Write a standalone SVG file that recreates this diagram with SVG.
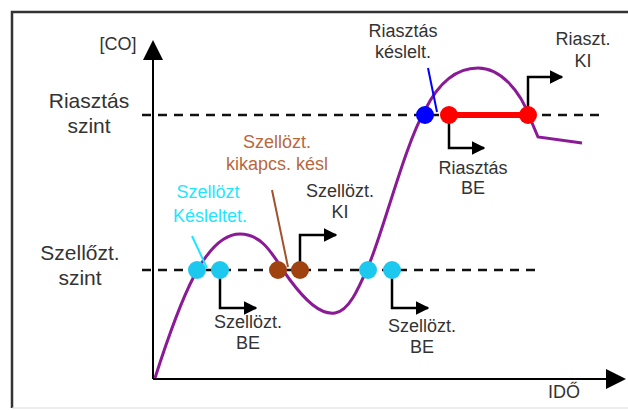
<svg xmlns="http://www.w3.org/2000/svg" width="628" height="410" viewBox="0 0 628 410">
<defs>
<marker id="ah" viewBox="0 0 10 10" refX="9" refY="5" markerWidth="5.5" markerHeight="5.5" orient="auto" markerUnits="strokeWidth"><path d="M0,0 L10,5 L0,10 z" fill="#000"/></marker>
<marker id="axh" viewBox="0 0 10 10" refX="9" refY="5" markerWidth="10" markerHeight="10" orient="auto" markerUnits="strokeWidth"><path d="M0,0 L10,5 L0,10 z" fill="#000"/></marker>
<clipPath id="cotop"><rect x="90" y="37" width="60" height="30"/></clipPath>
</defs>
<style>
text{font-family:"Liberation Sans",Arial,sans-serif;fill:#333;text-anchor:middle}
.big{font-size:21px}
.sm{font-size:18px}
.dash{stroke:#111;stroke-width:2.5;stroke-dasharray:9 7;fill:none}
.arr{stroke:#000;stroke-width:2.5;fill:none;marker-end:url(#ah)}
.axis{stroke:#000;stroke-width:2;fill:none;marker-end:url(#axh)}
.cy{fill:#1cc8ee}
.br{fill:#a0420f}
</style>
<rect width="628" height="410" fill="#fff"/>
<g id="frame">
<path d="M12,408 L12,12 L628,12" stroke="#333" stroke-width="2.5" fill="none"/>
<line x1="12" y1="408" x2="628" y2="408" stroke="#ddd" stroke-width="1"/>
</g>
<g id="axes">
<line class="axis" x1="153" y1="379" x2="153" y2="42"/>
<line class="axis" x1="153" y1="379" x2="624" y2="379"/>
<text class="sm" x="118" y="50" clip-path="url(#cotop)">[CO]</text>
<text class="sm" x="564" y="398">IDŐ</text>
</g>
<g id="levels">
<line class="dash" x1="142" y1="115" x2="600" y2="115"/>
<line class="dash" x1="142" y1="270" x2="536" y2="270"/>
<text class="big" x="89" y="108">Riasztás</text>
<text class="big" x="89" y="133">szint</text>
<text class="big" x="80" y="260">Szellőzt.</text>
<text class="big" x="80" y="285">szint</text>
</g>
<g id="curve">
<path d="M155,378 C180,300 205,234 240,234 C265,234 275,260 290,280 C305,300 320,315 335,313 C350,311 360,285 370,262 C385,225 405,145 425,110 C440,80 458,68 478,68 C500,68 520,90 530,118 L538,137 L582,143" stroke="#8a1a96" stroke-width="3" fill="none"/>
</g>
<g id="connectors">
<line x1="192" y1="236" x2="207" y2="268" stroke="#1ee6ff" stroke-width="2"/>
<line x1="272" y1="190" x2="288" y2="267" stroke="#a0522d" stroke-width="2"/>
<line x1="428" y1="68" x2="437" y2="112" stroke="#0000ff" stroke-width="2"/>
<path class="arr" d="M220,270 V308 H256"/>
<path class="arr" d="M392,270 V308 H428"/>
<path class="arr" d="M300,270 V235 H336"/>
<path class="arr" d="M449,115 V148 H484"/>
<path class="arr" d="M528,115 V77 H562"/>
</g>
<g id="szellozt-kesleltet">
<circle class="cy" cx="197" cy="270" r="9"/>
<circle class="cy" cx="220" cy="270" r="9"/>
<text class="sm" x="208" y="198" style="fill:#1ee6ff">Szellözt</text>
<text class="sm" x="210" y="222" style="fill:#1ee6ff">Késleltet.</text>
</g>
<g id="szellozt-be-1">
<text class="sm" x="248" y="328">Szellözt.</text>
<text class="sm" x="248" y="349">BE</text>
</g>
<g id="szellozt-kikapcs">
<circle class="br" cx="278" cy="270" r="9"/>
<circle class="br" cx="300" cy="270" r="9"/>
<text class="sm" x="277" y="148" style="fill:#b8683c">Szellözt.</text>
<text class="sm" x="277" y="170" style="fill:#b8683c">kikapcs. késl</text>
</g>
<g id="szellozt-ki">
<text class="sm" x="340" y="197">Szellözt.</text>
<text class="sm" x="340" y="218">KI</text>
</g>
<g id="szellozt-be-2">
<circle class="cy" cx="368" cy="270" r="9"/>
<circle class="cy" cx="392" cy="270" r="9"/>
<text class="sm" x="422" y="332">Szellözt.</text>
<text class="sm" x="422" y="353">BE</text>
</g>
<g id="riasztas-kesl">
<circle cx="425" cy="115" r="9" fill="#0000ff"/>
<text class="sm" x="403" y="37">Riasztás</text>
<text class="sm" x="403" y="58">késlelt.</text>
</g>
<g id="riasztas">
<line x1="449" y1="115" x2="528" y2="115" stroke="#ff0000" stroke-width="6"/>
<circle cx="449" cy="115" r="9" fill="#ff0000"/>
<circle cx="528" cy="115" r="9" fill="#ff0000"/>
<text class="sm" x="473" y="174">Riasztás</text>
<text class="sm" x="473" y="194">BE</text>
<text class="sm" x="583" y="45">Riaszt.</text>
<text class="sm" x="583" y="67">KI</text>
</g>
</svg>
